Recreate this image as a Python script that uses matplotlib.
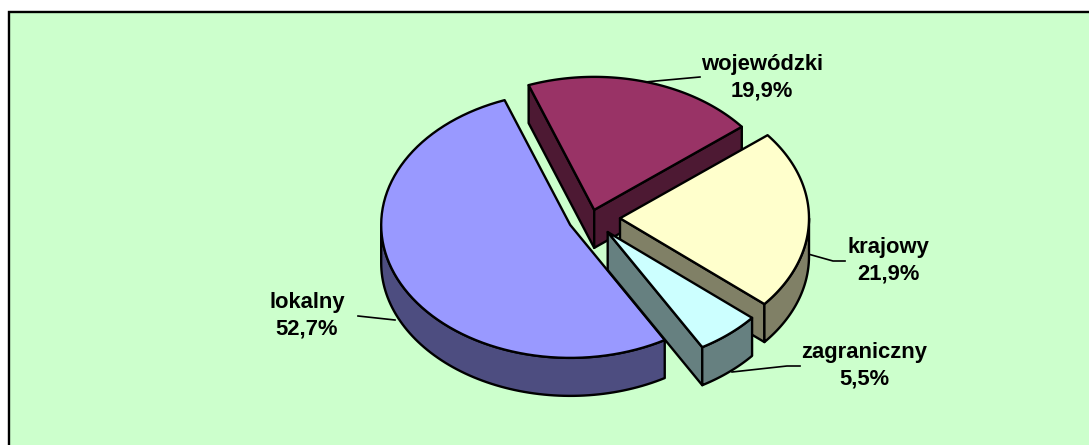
import numpy as np
import matplotlib
matplotlib.use("Agg")
import matplotlib.pyplot as plt
from matplotlib.patches import Polygon, Rectangle

# data, in the order the slices go clockwise
names = ["wojewódzki", "krajowy", "zagraniczny", "lokalny"]
values = [19.9, 21.9, 5.5, 52.7]

# styling per slice
top_colors = ["#993366", "#FFFFCC", "#CCFFFF", "#9999FF"]
side_colors = ["#4D1933", "#808066", "#668080", "#4D4D80"]
explode = [12, 29, 26, 23]
label_pos = [(762, 78), (888, 261), (864, 366), (307, 316)]
leaders = [
    [(645, 82), (700, 77)],
    [(808, 254), (833, 261), (845, 261)],
    [(732, 372), (787, 366), (800, 366)],
    [(395, 320), (358, 316)],
]

# pie geometry in pixels (y goes down)
cx, cy = 591, 218
rx, ry = 189, 133
depth = 38
start_angle = -20.3

fig = plt.figure(figsize=(10.89, 4.45), dpi=100, facecolor="white")
ax = fig.add_axes([0, 0, 1, 1])
ax.set_xlim(0, 1089)
ax.set_ylim(445, 0)
ax.axis("off")

# chart area runs off the right and bottom of the image
ax.add_patch(Rectangle((7.5, 10.5), 1200, 600, fc="none", ec="#999999", lw=0.8, zorder=0))
ax.add_patch(Rectangle((9, 12), 1200, 600, fc="#CCFFCC", ec="black", lw=1.7, zorder=0))


def rim(ox, oy, a0, a1):
    t = np.radians(np.linspace(a0, a1, 80))
    return np.column_stack([ox + rx * np.sin(t), oy - ry * np.cos(t)])


def down(pts):
    return pts + np.array([0, depth])


# slice angles, clockwise from 12 o'clock
edges = start_angle + np.cumsum([0] + values) * 3.6
slices = []
for i in range(len(values)):
    a0, a1 = edges[i], edges[i + 1]
    mid = np.radians((a0 + a1) / 2)
    ox = cx + explode[i] * np.sin(mid)
    oy = cy - explode[i] * np.cos(mid) * ry / rx
    slices.append((i, a0, a1, ox, oy))

# painter's order, back to front
z = 2
for i, a0, a1, ox, oy in [slices[0], slices[1], slices[3], slices[2]]:
    apex = np.array([[ox, oy]])
    style = dict(fc=side_colors[i], ec="black", lw=1.7, joinstyle="round")

    # radial walls, only when they face the viewer
    if np.cos(np.radians(a0 - 90)) < 0:
        wall = np.vstack([apex, rim(ox, oy, a0, a0)[:1]])
        ax.add_patch(Polygon(np.vstack([wall, down(wall)[::-1]]), zorder=z, **style))
    if np.cos(np.radians(a1 - 90 + 180)) < 0:
        wall = np.vstack([apex, rim(ox, oy, a1, a1)[:1]])
        ax.add_patch(Polygon(np.vstack([wall, down(wall)[::-1]]), zorder=z, **style))

    # outer wall: front half of the ellipse
    lo, hi = max(a0, 90), min(a1, 270)
    if lo < hi:
        arc = rim(ox, oy, lo, hi)
        ax.add_patch(Polygon(np.vstack([arc, down(arc)[::-1]]), zorder=z, **style))

    # top face
    top = np.vstack([apex, rim(ox, oy, a0, a1)])
    ax.add_patch(Polygon(top, fc=top_colors[i], ec="black", lw=1.7, joinstyle="round", zorder=z))
    z += 1

for i in range(len(names)):
    xs, ys = zip(*leaders[i])
    ax.plot(xs, ys, color="black", lw=1.2, zorder=1)
    pct = f"{values[i]:.1f}%".replace(".", ",")
    ax.text(label_pos[i][0], label_pos[i][1], f"{names[i]}\n{pct}", ha="center", va="center",
            family="Liberation Sans", fontweight="bold", fontsize=15.8, linespacing=1.35,
            color="black", zorder=10)

fig.savefig("out.png", dpi=100, facecolor="white")
